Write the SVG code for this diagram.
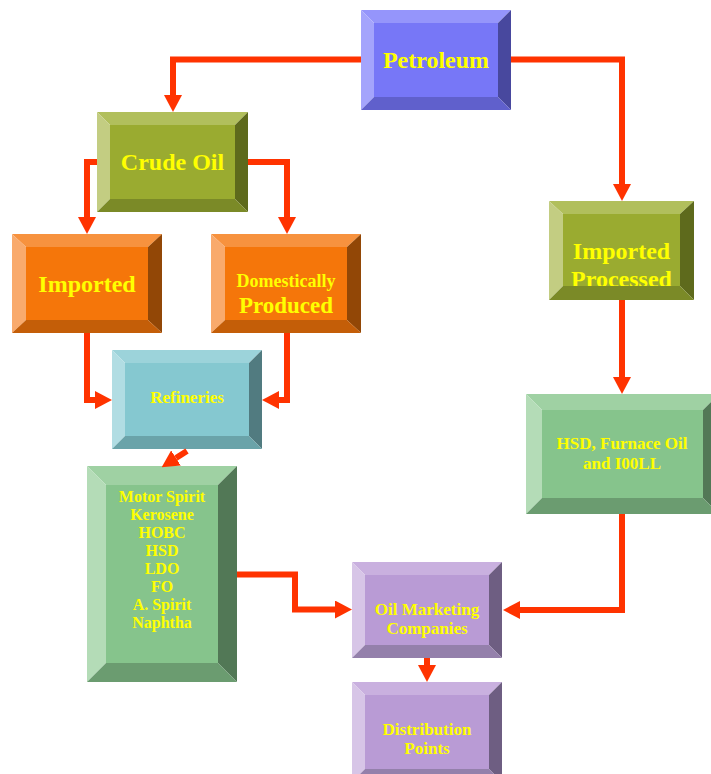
<svg xmlns="http://www.w3.org/2000/svg" width="711" height="774" viewBox="0 0 711 774">
<style>
.t{font-family:"Liberation Serif","Times New Roman",serif;font-weight:bold;fill:#ffff00;text-anchor:middle}
.c{fill:none;stroke:#ff3300;stroke-width:6;stroke-linejoin:miter}
.bl .f{fill:#7777f7}.bl .tp{fill:#9595fb}.bl .lf{fill:#a4a4fc}.bl .rt{fill:#48489e}.bl .bt{fill:#6060cc}
.ol .f{fill:#9aab30}.ol .tp{fill:#b1bf5c}.ol .lf{fill:#c3cd82}.ol .rt{fill:#5e6a1c}.ol .bt{fill:#7b8a27}
.or .f{fill:#f5760a}.or .tp{fill:#f7923e}.or .lf{fill:#f9aa6c}.or .rt{fill:#924706}.or .bt{fill:#c45e08}
.cy .f{fill:#85c8d0}.cy .tp{fill:#9cd3da}.cy .lf{fill:#b1dde3}.cy .rt{fill:#517b80}.cy .bt{fill:#6aa3a9}
.gr .f{fill:#86c48c}.gr .tp{fill:#9fd1a3}.gr .lf{fill:#b4dcb7}.gr .rt{fill:#527856}.gr .bt{fill:#6b9c70}
.pu .f{fill:#b99bd5}.pu .tp{fill:#c9b0df}.pu .lf{fill:#d7c5e7}.pu .rt{fill:#6e5e82}.pu .bt{fill:#9480ab}
</style>
<defs>
<marker id="ah" viewBox="0 0 17 18" refX="0" refY="9" markerWidth="17" markerHeight="18" markerUnits="userSpaceOnUse" orient="auto">
<path d="M0,0 L17,9 L0,18 z" fill="#ff3300"/>
</marker>
<clipPath id="ipclip"><rect x="563" y="213" width="117" height="73"/></clipPath>
</defs>
<rect width="711" height="774" fill="#ffffff"/>

<g id="petroleum" class="bl">
<rect class="f" x="374" y="23" width="124" height="74"/>
<polygon class="tp" points="361,10 511,10 498,23 374,23"/>
<polygon class="lf" points="361,10 374,23 374,97 361,110"/>
<polygon class="rt" points="511,10 511,110 498,97 498,23"/>
<polygon class="bt" points="361,110 374,97 498,97 511,110"/>
<text class="t" x="436" y="68" font-size="24">Petroleum</text>
</g>

<g id="crude-oil" class="ol">
<rect class="f" x="110" y="125" width="125" height="74"/>
<polygon class="tp" points="97,112 248,112 235,125 110,125"/>
<polygon class="lf" points="97,112 110,125 110,199 97,212"/>
<polygon class="rt" points="248,112 248,212 235,199 235,125"/>
<polygon class="bt" points="97,212 110,199 235,199 248,212"/>
<text class="t" x="172.5" y="170" font-size="24">Crude Oil</text>
</g>

<g id="imported" class="or">
<rect class="f" x="26" y="247" width="122" height="73"/>
<polygon class="tp" points="12,234 162,234 148,247 26,247"/>
<polygon class="lf" points="12,234 26,247 26,320 12,333"/>
<polygon class="rt" points="162,234 162,333 148,320 148,247"/>
<polygon class="bt" points="12,333 26,320 148,320 162,333"/>
<text class="t" x="87" y="292" font-size="24">Imported</text>
</g>

<g id="domestically-produced" class="or">
<rect class="f" x="225" y="247" width="122" height="73"/>
<polygon class="tp" points="211,234 361,234 347,247 225,247"/>
<polygon class="lf" points="211,234 225,247 225,320 211,333"/>
<polygon class="rt" points="361,234 361,333 347,320 347,247"/>
<polygon class="bt" points="211,333 225,320 347,320 361,333"/>
<text class="t" x="286" y="287" font-size="18">Domestically</text>
<text class="t" x="286" y="313" font-size="23">Produced</text>
</g>

<g id="refineries" class="cy">
<rect class="f" x="125" y="363" width="124" height="73"/>
<polygon class="tp" points="112,350 262,350 249,363 125,363"/>
<polygon class="lf" points="112,350 125,363 125,436 112,449"/>
<polygon class="rt" points="262,350 262,449 249,436 249,363"/>
<polygon class="bt" points="112,449 125,436 249,436 262,449"/>
<text class="t" x="187" y="403" font-size="17">Refineries</text>
</g>

<g id="imported-processed" class="ol">
<g clip-path="url(#ipclip)">
<rect class="f" x="563" y="214" width="117" height="72"/>
<text class="t" x="621.5" y="259" font-size="24">Imported</text>
<text class="t" x="621.5" y="287" font-size="24">Processed</text>
</g>
<polygon class="tp" points="549,201 694,201 680,214 563,214"/>
<polygon class="lf" points="549,201 563,214 563,286 549,300"/>
<polygon class="rt" points="694,201 694,300 680,286 680,214"/>
<polygon class="bt" points="549,300 563,286 680,286 694,300"/>
</g>

<g id="hsd-furnace" class="gr">
<rect class="f" x="542" y="410" width="161" height="88"/>
<polygon class="tp" points="526,394 719,394 703,410 542,410"/>
<polygon class="lf" points="526,394 542,410 542,498 526,514"/>
<polygon class="rt" points="719,394 719,514 703,498 703,410"/>
<polygon class="bt" points="526,514 542,498 703,498 719,514"/>
<text class="t" x="622" y="449" font-size="17">HSD, Furnace Oil</text>
<text class="t" x="622" y="469" font-size="17">and I00LL</text>
</g>

<g id="products" class="gr">
<rect class="f" x="106" y="485" width="112" height="178"/>
<polygon class="tp" points="87,466 237,466 218,485 106,485"/>
<polygon class="lf" points="87,466 106,485 106,663 87,682"/>
<polygon class="rt" points="237,466 237,682 218,663 218,485"/>
<polygon class="bt" points="87,682 106,663 218,663 237,682"/>
<text class="t" x="162" y="502" font-size="16">Motor Spirit</text>
<text class="t" x="162" y="520" font-size="16">Kerosene</text>
<text class="t" x="162" y="538" font-size="16">HOBC</text>
<text class="t" x="162" y="556" font-size="16">HSD</text>
<text class="t" x="162" y="574" font-size="16">LDO</text>
<text class="t" x="162" y="592" font-size="16">FO</text>
<text class="t" x="162" y="610" font-size="16">A. Spirit</text>
<text class="t" x="162" y="628" font-size="16">Naphtha</text>
</g>

<g id="oil-marketing" class="pu">
<rect class="f" x="365" y="575" width="124" height="70"/>
<polygon class="tp" points="352,562 502,562 489,575 365,575"/>
<polygon class="lf" points="352,562 365,575 365,645 352,658"/>
<polygon class="rt" points="502,562 502,658 489,645 489,575"/>
<polygon class="bt" points="352,658 365,645 489,645 502,658"/>
<text class="t" x="427" y="615" font-size="17">Oil Marketing</text>
<text class="t" x="427" y="634" font-size="17">Companies</text>
</g>

<g id="distribution" class="pu">
<rect class="f" x="365" y="695" width="124" height="74"/>
<polygon class="tp" points="352,682 502,682 489,695 365,695"/>
<polygon class="lf" points="352,682 365,695 365,769 352,782"/>
<polygon class="rt" points="502,682 502,782 489,769 489,695"/>
<polygon class="bt" points="352,782 365,769 489,769 502,782"/>
<text class="t" x="427" y="735" font-size="17">Distribution</text>
<text class="t" x="427" y="754" font-size="17">Points</text>
</g>

<g id="connectors">
<path class="c" d="M361,59.5 H173 V95" marker-end="url(#ah)"/>
<path class="c" d="M511,59.5 H622 V184" marker-end="url(#ah)"/>
<path class="c" d="M97,162 H87 V217" marker-end="url(#ah)"/>
<path class="c" d="M248,162 H287 V217" marker-end="url(#ah)"/>
<path class="c" d="M87,333 V400 H95" marker-end="url(#ah)"/>
<path class="c" d="M287,333 V400 H279" marker-end="url(#ah)"/>
<path class="c" d="M187,451 L176,458" marker-end="url(#ah)"/>
<path class="c" d="M622,300 V377" marker-end="url(#ah)"/>
<path class="c" d="M622,514 V610 H520" marker-end="url(#ah)"/>
<path class="c" d="M237,574.5 H295 V609.5 H335" marker-end="url(#ah)"/>
<path class="c" d="M427,658 V665" marker-end="url(#ah)"/>
</g>
</svg>
